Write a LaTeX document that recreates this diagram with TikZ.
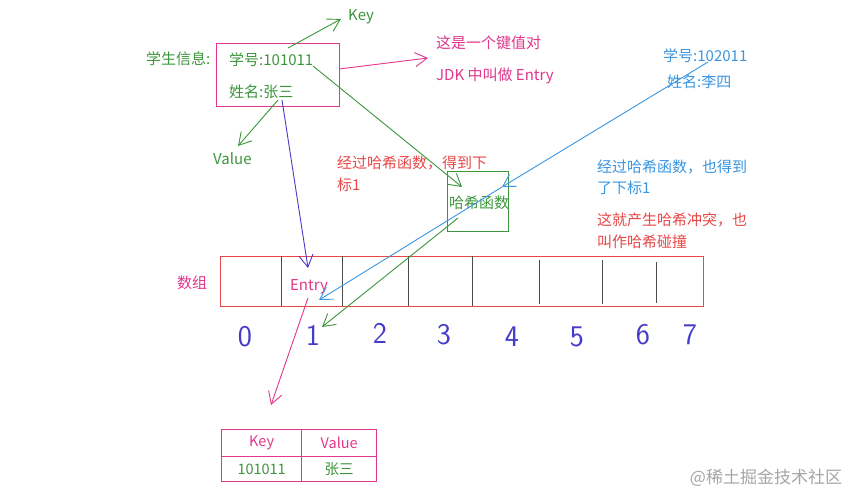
\documentclass[tikz,border=0pt]{standalone}
\usepackage{fontspec}
\newfontfamily\cjk{Noto Sans CJK SC}
\usetikzlibrary{matrix,arrows.meta,positioning,calc}
\definecolor{grn}{RGB}{60,150,60}
\definecolor{pnk}{RGB}{225,55,140}
\definecolor{rd}{RGB}{232,72,72}
\definecolor{sky}{RGB}{58,150,225}
\definecolor{ink}{RGB}{70,60,200}

\begin{document}
\begin{tikzpicture}[x=1pt,y=-1pt,font=\cjk\fontsize{15}{18}\selectfont,
  >={Straight Barb[length=12pt,width=14pt]},
  lbl/.style={inner sep=0pt,anchor=west},
  arrline/.style={line width=0.9pt},
  digit/.style={text=ink,inner sep=0pt,font=\sffamily\fontsize{30}{30}\selectfont}]
\useasboundingbox[fill=white] (0,0) rectangle (852,495);

% student record
\node[lbl,text=grn] (info) at (146,59) {学生信息:};
\node[draw=pnk,line width=1pt,minimum width=123pt,minimum height=63pt] (stu) at (277.5,75.5) {};
\node[lbl,text=grn] (sno) at (229,60) {学号:101011};
\node[lbl,text=grn] (sname) at (229,92) {姓名:张三};
\node[lbl,text=grn] (key) at (348,17) {Key};
\node[lbl,text=grn] (val) at (213,159) {Value};
\node[lbl,text=pnk] (pair) at (436,43) {这是一个键值对};
\node[lbl,text=pnk] (pairname) at (436,76) {JDK 中叫做 Entry};

% second record
\node[lbl,text=sky] (lno) at (663,56) {学号:102011};
\node[lbl,text=sky] (lname) at (667,82) {姓名:李四};

% hash function and notes
\node[lbl,text=rd] (hnote1) at (337,163) {经过哈希函数，得到下};
\node[lbl,text=rd] (hnote2) at (337,185) {标1};
\node[draw=grn,line width=0.9pt,minimum width=61pt,minimum height=60pt] (hash) at (477.5,201) {};
\node[text=grn,inner sep=0pt] (hashtxt) at (479,203) {哈希函数};
\node[lbl,text=sky] (lnote1) at (597,167) {经过哈希函数，也得到};
\node[lbl,text=sky] (lnote2) at (597,188) {了下标1};
\node[lbl,text=rd] (cnote1) at (597,220) {这就产生哈希冲突，也};
\node[lbl,text=rd] (cnote2) at (597,242) {叫作哈希碰撞};

% array
\node[draw=rd,line width=0.9pt,minimum width=483pt,minimum height=50pt,inner sep=0pt] (arr) at (461.5,281) {};
\foreach \x/\ya/\yb in {281/256/306,342/256/306,408/256/306,472/256/306,539/260/304,602/260/304,656/262/303}
  \draw[line width=0.9pt,black!70] (\x,\ya) -- (\x,\yb);
\node[text=pnk] (arrname) at (192,283) {数组};
\node[text=pnk,inner sep=0pt] (entry) at (309,287) {Entry};
\foreach \d/\x/\y in {0/245/337,1/313/335,2/380/333,3/444/335,4/512/337,5/577/337,6/643/335,7/690/335}
  \node[digit] (d\d) at (\x,\y) {\d};

% entry table
\matrix (tbl) [matrix of nodes,anchor=north west,inner sep=0pt,column sep=-0.9pt,row sep=-0.9pt,
  nodes={draw=pnk,line width=0.9pt,inner sep=0pt,anchor=center,font=\cjk\fontsize{14.5}{16}\selectfont},
  row 1/.style={nodes={minimum height=27pt,text=pnk}},
  row 2/.style={nodes={minimum height=25pt,text=grn}},
  column 1/.style={nodes={minimum width=80pt}},
  column 2/.style={nodes={minimum width=75pt}}] at (221,429)
{
Key & Value \\
101011 & 张三 \\
};

\node[text=black!35,font=\cjk\fontsize{17}{20}\selectfont] (mark) at (766,478) {@稀土掘金技术社区};

% arrow ends
\coordinate (kfrom) at (288,48);
\coordinate (ktip) at (341,19);
\coordinate (vfrom) at (278,100);
\coordinate (vtip) at (238,146);
\coordinate (pfrom) at (339,69);
\coordinate (ptip) at (428,58);
\coordinate (gfrom) at (313,66);
\coordinate (gtip) at (462,187);
\coordinate (bfrom) at (282,100);
\coordinate (btip) at (308,268);
\coordinate (sfrom) at (708,62);
\coordinate (stip) at (502,187);
\coordinate (setip) at (319,300);
\coordinate (hfrom) at (458,218);
\coordinate (htip) at (322,327);
\coordinate (efrom) at (308,298);
\coordinate (etip) at (271,405);

\path[->,arrline]
(kfrom) edge[grn] (ktip)
(vfrom) edge[grn] (vtip)
(gfrom) edge[grn] (gtip)
(hfrom) edge[grn] (htip)
(pfrom) edge[pnk] (ptip)
(efrom) edge[pnk] (etip)
(bfrom) edge[ink] (btip)
(sfrom) edge[sky] (stip)
(stip) edge[sky] (setip)
;
\end{tikzpicture}
\end{document}
